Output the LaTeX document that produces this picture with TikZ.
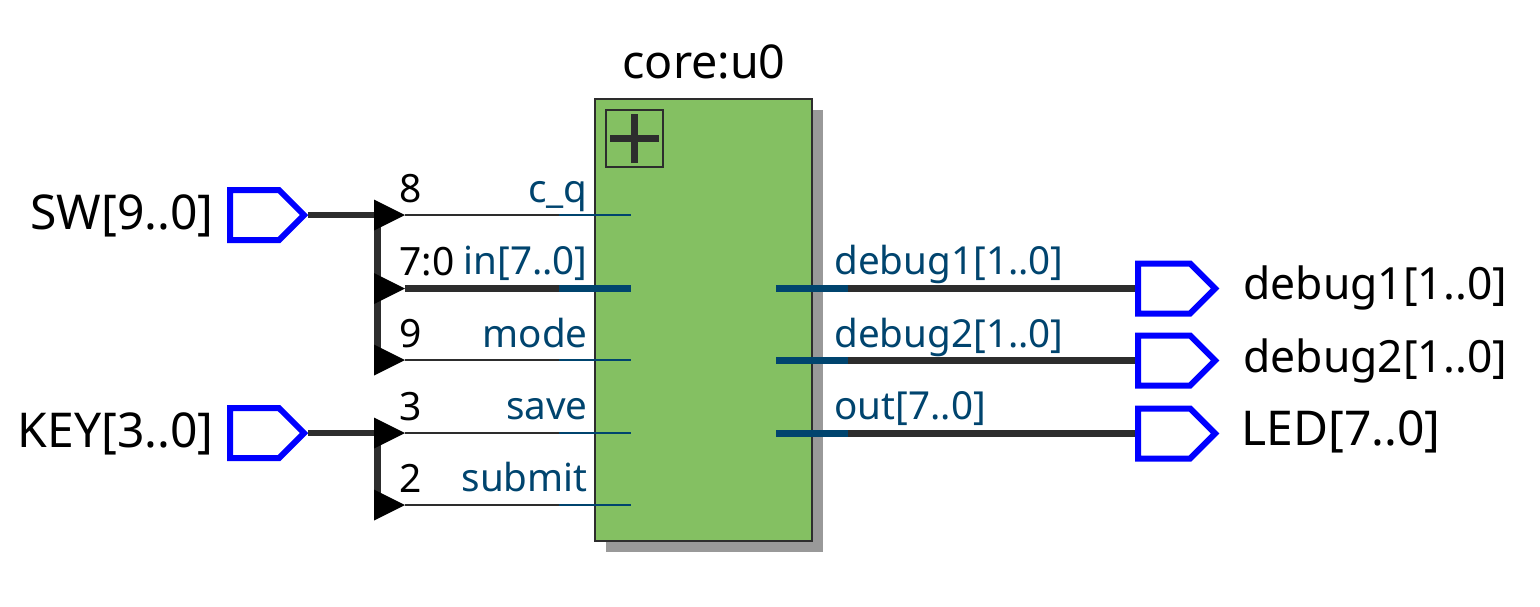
\documentclass[tikz,border=0pt]{standalone}
\usepackage{fontspec}
\setmainfont{Noto Sans}
\usetikzlibrary{shapes.geometric,shapes.symbols}
\definecolor{coregreen}{HTML}{84C062}
\definecolor{portblue}{HTML}{00446E}
\definecolor{wiredark}{HTML}{2D2D2D}
\definecolor{shadowgray}{HTML}{999999}
\definecolor{pinblue}{HTML}{0000FF}
\tikzset{
  coreblock/.style={draw=wiredark,fill=coregreen,line width=0.75pt,minimum width=108.5pt,minimum height=221pt,inner sep=0pt},
  coreshadow/.style={fill=shadowgray,minimum width=108.5pt,minimum height=221pt,inner sep=0pt},
  plusbox/.style={draw=wiredark,line width=0.6pt,minimum size=28.5pt,inner sep=0pt},
  pinbox/.style={signal,signal to=east,signal pointer angle=90,draw=pinblue,line width=3pt,line join=miter,fill=white,inner sep=0pt,minimum height=25pt,anchor=west},
  inbox/.style={pinbox,minimum width=37pt},
  outbox/.style={pinbox,minimum width=38.5pt},
  tap/.style={isosceles triangle,isosceles triangle stretches,fill=black,inner sep=0pt,outer sep=0pt,minimum width=15.5pt,minimum height=15.5pt,anchor=apex},
  bus/.style={wiredark,line width=3.4pt},
  thin wire/.style={wiredark,line width=1pt},
  port bus/.style={portblue,line width=3.4pt},
  port wire/.style={portblue,line width=1pt},
  big label/.style={inner sep=0pt,font=\fontsize{22.2}{22}\selectfont},
  wide label/.style={inner sep=0pt,font=\fontsize{24}{24}\selectfont},
  bit label/.style={inner sep=0pt,anchor=base west,font=\fontsize{19.5}{19}\selectfont},
  port label/.style={inner sep=0pt,text=portblue,font=\fontsize{19.3}{19}\selectfont}
}
\begin{document}
\begin{tikzpicture}[x=0.5pt,y=-0.5pt]
    \useasboundingbox (0,0) rectangle (1540,606);

    \node[coreshadow] (shadow) at (714.5,331) {};
    \node[coreblock] (core) at (703.5,320) {};
    \node[plusbox] (plus) at (634.5,138.5) {};
    \draw[wiredark,line width=3.5pt] ([xshift=-12.25pt]plus.center) -- ([xshift=12.25pt]plus.center);
    \draw[wiredark,line width=3.5pt] ([yshift=-12.25pt]plus.center) -- ([yshift=12.25pt]plus.center);
    \node[wide label,font=\fontsize{23.3}{24}\selectfont,anchor=base] (title) at (704,78) {core:u0};

    \node[inbox] (sw) at (227,215) {};
    \node[inbox] (key) at (227,433) {};
    \node[outbox] (dbgone) at (1135,288.5) {};
    \node[outbox] (dbgtwo) at (1135,360.5) {};
    \node[outbox] (led) at (1135,433.5) {};

    \node[wide label,anchor=base east] (swname) at (214,229) {SW[9..0]};
    \node[wide label,anchor=base east] (keyname) at (214,447) {KEY[3..0]};
    \node[big label,anchor=base west] (dbgonename) at (1243,299) {debug1[1..0]};
    \node[big label,anchor=base west] (dbgtwoname) at (1243,372) {debug2[1..0]};
    \node[wide label,anchor=base west] (ledname) at (1241,445) {LED[7..0]};

    % bus trunks go under the taps
    \coordinate (swbus) at (377.5,215);
    \coordinate (swend) at (377.5,360);
    \coordinate (keybus) at (377.5,433);
    \coordinate (keyend) at (377.5,505);
    \draw[bus] (sw.east) to (swbus);
    \draw[bus] (key.east) to (keybus);
    \draw[bus] (swbus) to (swend);
    \draw[bus] (keybus) to (keyend);

    \node[tap] (tapc) at (405,215) {};
    \node[tap] (tapin) at (405,288.5) {};
    \node[tap] (tapmode) at (405,360) {};
    \node[tap] (tapsave) at (405,433) {};
    \node[tap] (tapsubmit) at (405,505) {};

    \coordinate (stubc) at (559,215);
    \coordinate (stubin) at (559,288.5);
    \coordinate (stubmode) at (559,360);
    \coordinate (stubsave) at (559,433);
    \coordinate (stubsubmit) at (559,505);
    \coordinate (portc) at (631,215);
    \coordinate (portin) at (631,288.5);
    \coordinate (portmode) at (631,360);
    \coordinate (portsave) at (631,433);
    \coordinate (portsubmit) at (631,505);

    \draw[thin wire] (tapc.apex) to (stubc);
    \draw[bus] (tapin.apex) to (stubin);
    \draw[thin wire] (tapmode.apex) to (stubmode);
    \draw[thin wire] (tapsave.apex) to (stubsave);
    \draw[thin wire] (tapsubmit.apex) to (stubsubmit);
    \draw[port wire] (stubc) to (portc);
    \draw[port bus] (stubin) to (portin);
    \draw[port wire] (stubmode) to (portmode);
    \draw[port wire] (stubsave) to (portsave);
    \draw[port wire] (stubsubmit) to (portsubmit);

    \coordinate (portone) at (776,288.5);
    \coordinate (porttwo) at (776,360.5);
    \coordinate (portout) at (776,433.5);
    \coordinate (stubone) at (848,288.5);
    \coordinate (stubtwo) at (848,360.5);
    \coordinate (stubout) at (848,433.5);

    \draw[port bus] (portone) to (stubone);
    \draw[port bus] (porttwo) to (stubtwo);
    \draw[port bus] (portout) to (stubout);
    \draw[bus] (stubone) to (dbgone.west);
    \draw[bus] (stubtwo) to (dbgtwo.west);
    \draw[bus] (stubout) to (led.west);

    \node[bit label] (bitc) at (399,202) {8};
    \node[bit label] (bitin) at (399,275) {7:0};
    \node[bit label] (bitmode) at (399,347) {9};
    \node[bit label] (bitsave) at (399,420) {3};
    \node[bit label] (bitsubmit) at (399,492) {2};

    \node[port label,anchor=base east] (namec) at (588,202) {c\_q};
    \node[port label,anchor=base east] (namein) at (588,274) {in[7..0]};
    \node[port label,anchor=base east] (namemode) at (588,347) {mode};
    \node[port label,anchor=base east] (namesave) at (588,419) {save};
    \node[port label,anchor=base east] (namesubmit) at (588,491) {submit};
    \node[port label,anchor=base west] (nameone) at (834,274) {debug1[1..0]};
    \node[port label,anchor=base west] (nametwo) at (834,347) {debug2[1..0]};
    \node[port label,anchor=base west] (nameout) at (834,419) {out[7..0]};
\end{tikzpicture}
\end{document}
